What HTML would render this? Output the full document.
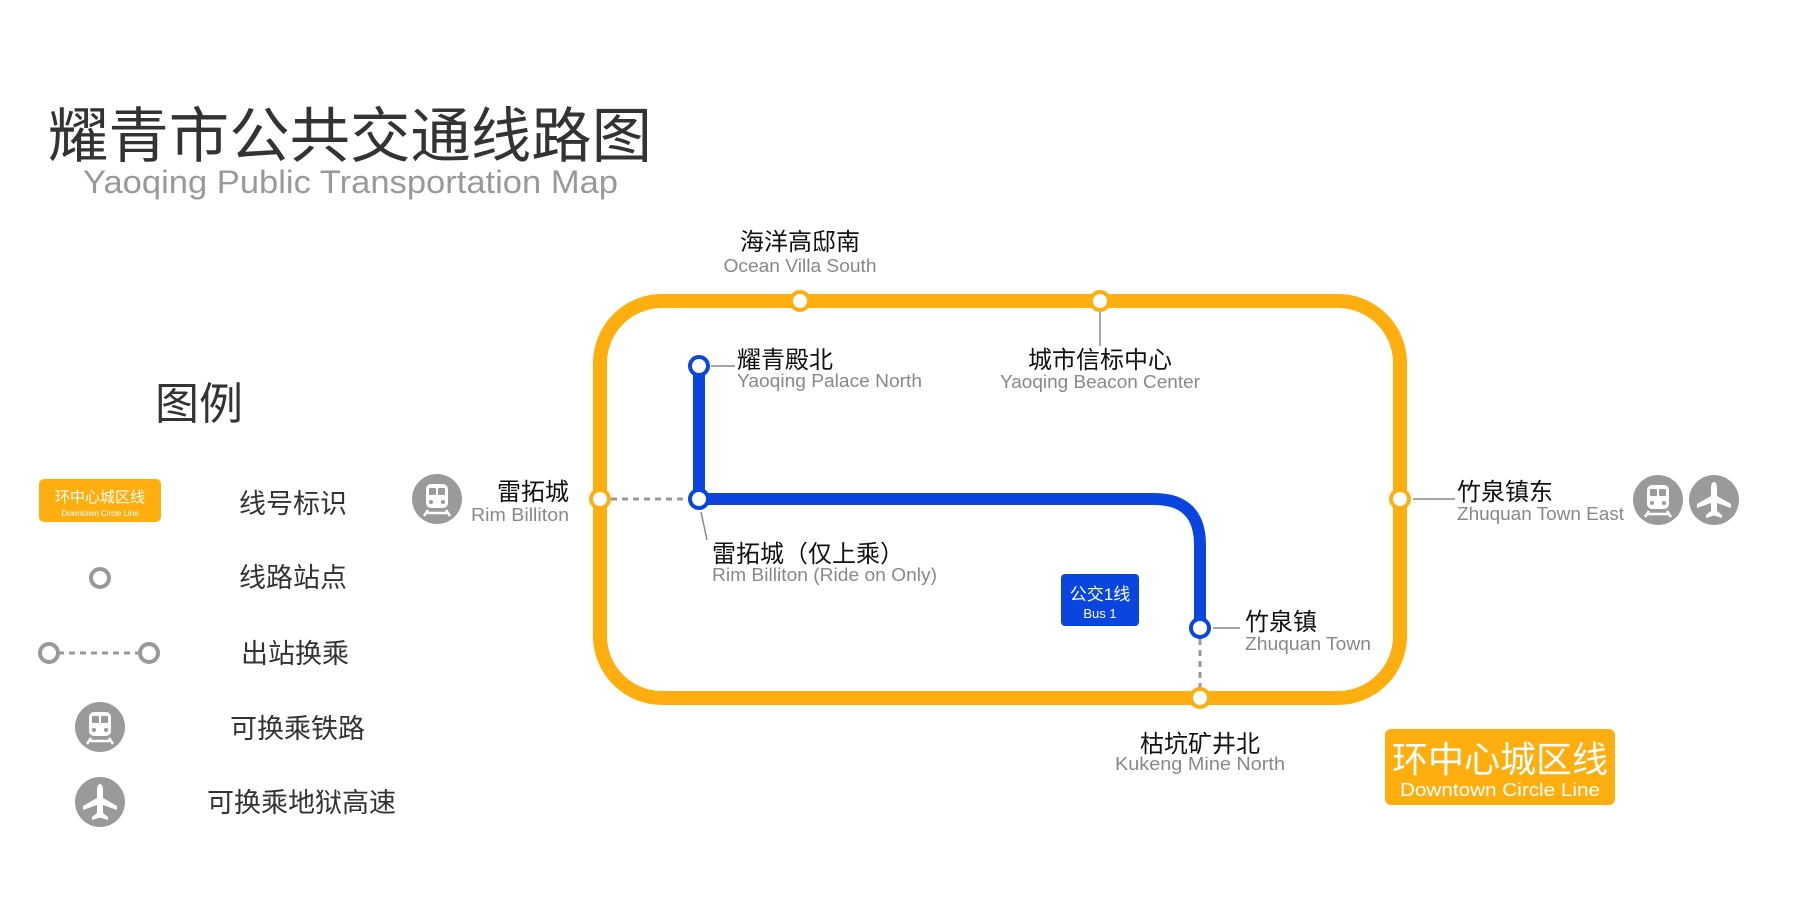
<!DOCTYPE html>
<html><head><meta charset="utf-8"><style>
html,body{margin:0;padding:0;background:#fff;}
svg{display:block;}
text{font-family:"Liberation Sans","Noto Sans CJK SC",sans-serif;}
</style></head><body>
<svg width="1800" height="900" viewBox="0 0 1800 900" xmlns="http://www.w3.org/2000/svg">
<defs>
<g id="rail">
  <circle r="25" fill="#9a9a9a"/>
  <rect x="-11" y="-15" width="22" height="24" rx="5" fill="#fff"/>
  <rect x="-8" y="-11" width="7" height="7" rx="1" fill="#9a9a9a"/>
  <rect x="1" y="-11" width="7" height="7" rx="1" fill="#9a9a9a"/>
  <circle cx="-6" cy="3" r="2" fill="#9a9a9a"/>
  <circle cx="6" cy="3" r="2" fill="#9a9a9a"/>
  <path d="M-9 11 L-13 17 M9 11 L13 17 M-10 14 H10" stroke="#fff" stroke-width="2.5" fill="none"/>
</g>
<g id="plane">
  <circle r="25" fill="#9a9a9a"/>
  <path d="M0 -18 C2 -18 3 -15 3 -12 L3 -4 L17 4 L17 8 L3 3 L3 11 L8 15 L8 18 L0 15.5 L-8 18 L-8 15 L-3 11 L-3 3 L-17 8 L-17 4 L-3 -4 L-3 -12 C-3 -15 -2 -18 0 -18 Z" fill="#fff"/>
</g>
</defs>

<!-- Title -->
<text x="48" y="157" font-size="60" fill="#333" textLength="604" lengthAdjust="spacingAndGlyphs">耀青市公共交通线路图</text>
<text x="83" y="193" font-size="32" fill="#999" textLength="535" lengthAdjust="spacingAndGlyphs">Yaoqing Public Transportation Map</text>

<!-- Legend -->
<text x="155" y="419" font-size="44" fill="#333">图例</text>
<rect x="39" y="479" width="122" height="43" rx="5" fill="#ffae0f"/>
<text x="100" y="502" font-size="15" fill="#fff" text-anchor="middle">环中心城区线</text>
<text x="100" y="516" font-size="8" fill="#fff" text-anchor="middle">Downtown Circle Line</text>
<text x="239" y="513" font-size="27" fill="#333">线号标识</text>
<circle cx="100" cy="578" r="9" fill="#fff" stroke="#999" stroke-width="4"/>
<text x="239" y="587" font-size="27" fill="#333">线路站点</text>
<line x1="58" y1="653" x2="140" y2="653" stroke="#999" stroke-width="3" stroke-dasharray="6,5"/>
<circle cx="49" cy="653" r="9" fill="#fff" stroke="#999" stroke-width="4"/>
<circle cx="149" cy="653" r="9" fill="#fff" stroke="#999" stroke-width="4"/>
<text x="241" y="663" font-size="27" fill="#333">出站换乘</text>
<use href="#rail" x="100" y="727"/>
<text x="230" y="738" font-size="27" fill="#333">可换乘铁路</text>
<use href="#plane" x="100" y="802"/>
<text x="207" y="812" font-size="27" fill="#333">可换乘地狱高速</text>

<!-- Transfer dashes -->
<line x1="600" y1="499" x2="699" y2="499" stroke="#999" stroke-width="3" stroke-dasharray="6,5"/>
<line x1="1200" y1="628" x2="1200" y2="698" stroke="#999" stroke-width="3" stroke-dasharray="6,5"/>

<!-- Circle line -->
<rect x="600" y="301" width="800" height="397" rx="62" fill="none" stroke="#ffae0f" stroke-width="14"/>

<!-- Bus 1 -->
<path d="M699 366 V499 H1154 Q1200 499 1200 545 V628" fill="none" stroke="#0a45e0" stroke-width="12"/>

<!-- Leaders -->
<g stroke="#888" stroke-width="1.5">
<line x1="711" y1="366" x2="735" y2="366"/>
<line x1="1100" y1="310" x2="1100" y2="346"/>
<line x1="701" y1="512" x2="707" y2="540"/>
<line x1="1213" y1="628" x2="1240" y2="628"/>
<line x1="1413" y1="499" x2="1455" y2="499"/>
</g>

<!-- Stations -->
<g fill="#fff" stroke="#ffae0f" stroke-width="4">
<circle cx="800" cy="301" r="9"/>
<circle cx="1100" cy="301" r="9"/>
<circle cx="600" cy="499" r="9"/>
<circle cx="1400" cy="499" r="9"/>
<circle cx="1200" cy="698" r="9"/>
</g>
<g fill="#fff" stroke="#0a45e0" stroke-width="4">
<circle cx="699" cy="366" r="9"/>
<circle cx="699" cy="499" r="9"/>
<circle cx="1200" cy="628" r="9"/>
</g>

<!-- Labels -->
<g font-size="24" fill="#111">
<text x="800" y="250" text-anchor="middle">海洋高邸南</text>
<text x="737" y="368">耀青殿北</text>
<text x="1100" y="368" text-anchor="middle">城市信标中心</text>
<text x="569" y="500" text-anchor="end">雷拓城</text>
<text x="712" y="562">雷拓城（仅上乘）</text>
<text x="1245" y="630">竹泉镇</text>
<text x="1200" y="752" text-anchor="middle">枯坑矿井北</text>
<text x="1457" y="500">竹泉镇东</text>
</g>
<g font-size="18" fill="#888">
<text x="800" y="272" text-anchor="middle" textLength="153" lengthAdjust="spacingAndGlyphs">Ocean Villa South</text>
<text x="737" y="387" textLength="185" lengthAdjust="spacingAndGlyphs">Yaoqing Palace North</text>
<text x="1100" y="388" text-anchor="middle" textLength="200" lengthAdjust="spacingAndGlyphs">Yaoqing Beacon Center</text>
<text x="569" y="521" text-anchor="end" textLength="98" lengthAdjust="spacingAndGlyphs">Rim Billiton</text>
<text x="712" y="581" textLength="225" lengthAdjust="spacingAndGlyphs">Rim Billiton (Ride on Only)</text>
<text x="1245" y="650" textLength="126" lengthAdjust="spacingAndGlyphs">Zhuquan Town</text>
<text x="1200" y="770" text-anchor="middle" textLength="170" lengthAdjust="spacingAndGlyphs">Kukeng Mine North</text>
<text x="1457" y="520" textLength="167" lengthAdjust="spacingAndGlyphs">Zhuquan Town East</text>
</g>

<use href="#rail" x="437" y="499"/>
<use href="#rail" x="1658" y="500"/>
<use href="#plane" x="1714" y="500"/>

<rect x="1061" y="574" width="78" height="52" rx="4" fill="#0a45e0"/>
<text x="1100" y="600" font-size="17" fill="#fff" text-anchor="middle">公交1线</text>
<text x="1100" y="618" font-size="13" fill="#fff" text-anchor="middle">Bus 1</text>

<rect x="1385" y="729" width="230" height="76" rx="6" fill="#ffae0f"/>
<text x="1500" y="772" font-size="36" fill="#fff" text-anchor="middle">环中心城区线</text>
<text x="1500" y="796" font-size="18" fill="#fff" text-anchor="middle" textLength="200" lengthAdjust="spacingAndGlyphs">Downtown Circle Line</text>
</svg>
</body></html>
